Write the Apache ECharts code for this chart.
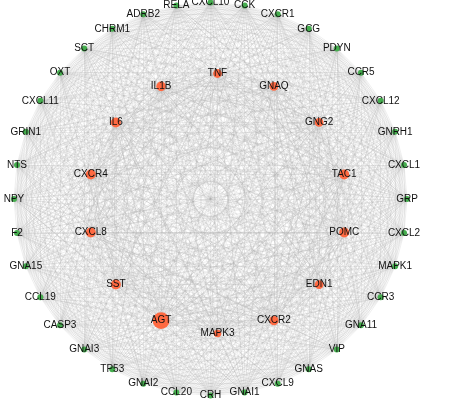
<!DOCTYPE html>
<html>
<head>
<meta charset="utf-8">
<script src="https://cdn.jsdelivr.net/npm/echarts@6/dist/echarts.min.js"></script>
<style>
  html, body { margin: 0; padding: 0; background: #fff; }
  #chart { width: 459px; height: 401px; }
</style>
</head>
<body>
<div id="chart"></div>
<script>
// Hub genes (inner ring), clockwise from the top
const hubGenes = ['TNF', 'GNAQ', 'GNG2', 'TAC1', 'POMC', 'EDN1', 'CXCR2', 'MAPK3',
  'AGT', 'SST', 'CXCL8', 'CXCR4', 'IL6', 'IL1B'];
const hubDegree = [22, 22, 22, 25, 25, 22, 23, 19, 42, 25, 25, 25, 25, 24];

// Remaining genes (outer ring), clockwise from the top
const otherGenes = ['CXCL10', 'CCK', 'CXCR1', 'GCG', 'PDYN', 'CCR5', 'CXCL12', 'GNRH1',
  'CXCL1', 'GRP', 'CXCL2', 'MAPK1', 'CCR3', 'GNA11', 'VIP', 'GNAS', 'CXCL9', 'GNAI1',
  'CRH', 'CCL20', 'GNAI2', 'TP53', 'GNAI3', 'CASP3', 'CCL19', 'GNA15', 'F2', 'NPY',
  'NTS', 'GRIN1', 'CXCL11', 'OXT', 'SCT', 'CHRM1', 'ADRB2', 'RELA'];
const otherDegree = [15, 15, 15, 15, 15, 15, 15, 15, 15, 15, 15, 15, 15, 15, 15, 15, 15, 15,
  15, 15, 15, 15, 15, 15, 15, 15, 15, 15, 15, 15, 15, 15, 15, 15, 15, 15];

// The interaction web links every gene in the set with every other gene
const allGenes = hubGenes.concat(otherGenes);
const links = [];
for (let i = 0; i < allGenes.length; i++) {
  for (let j = i + 1; j < allGenes.length; j++) {
    links.push({ source: allGenes[i], target: allGenes[j] });
  }
}

// Circular layout: two concentric rings
const outerRing = { cx: 210.5, cy: 199, r: 196.5 };
const innerRing = { cx: 217.5, cy: 203.5, r: 130 };
function ringPos(ring, i, n) {
  const a = (90 - i * 360 / n) * Math.PI / 180;
  return [ring.cx + ring.r * Math.cos(a), ring.cy - ring.r * Math.sin(a)];
}
const degreeToSize = d => d * 0.4;

const nodes = [];
hubGenes.forEach((g, i) => {
  const p = ringPos(innerRing, i, hubGenes.length);
  nodes.push({
    name: g, x: p[0], y: p[1], value: hubDegree[i],
    symbolSize: degreeToSize(hubDegree[i]),
    itemStyle: { color: '#ff6a42' }
  });
});
otherGenes.forEach((g, i) => {
  const p = ringPos(outerRing, i, otherGenes.length);
  nodes.push({
    name: g, x: p[0], y: p[1], value: otherDegree[i],
    symbolSize: degreeToSize(otherDegree[i]),
    itemStyle: { color: '#45ad4e' }
  });
});

// Keep the graph unscaled: the series box equals the node bounding box
let minX = Infinity, minY = Infinity, maxX = -Infinity, maxY = -Infinity;
nodes.forEach(n => {
  minX = Math.min(minX, n.x); maxX = Math.max(maxX, n.x);
  minY = Math.min(minY, n.y); maxY = Math.max(maxY, n.y);
});

const chart = echarts.init(document.getElementById('chart'), null, { renderer: 'canvas' });
chart.setOption({
  animation: false,
  backgroundColor: '#ffffff',
  series: [{
    type: 'graph',
    layout: 'none',
    left: minX, top: minY,
    width: maxX - minX, height: maxY - minY,
    roam: false,
    data: nodes,
    links: links,
    symbol: 'circle',
    label: {
      show: true,
      position: 'inside',
      color: '#111',
      fontSize: 10,
      fontFamily: 'Liberation Sans, Arial, sans-serif'
    },
    lineStyle: { color: '#a8a8a8', width: 0.5, opacity: 0.38, curveness: 0 },
    emphasis: { disabled: true }
  }]
});
</script>
</body>
</html>
